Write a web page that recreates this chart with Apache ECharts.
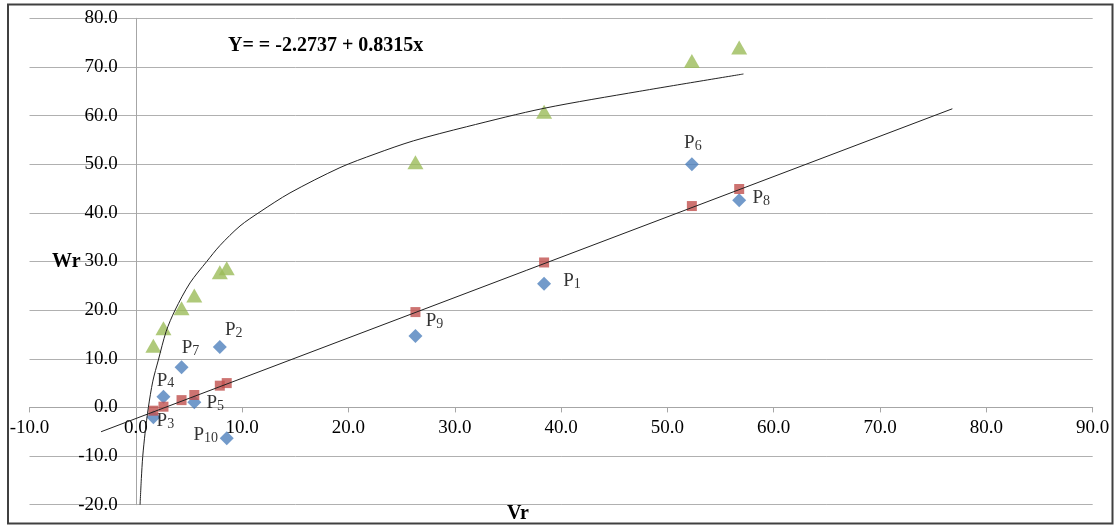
<!DOCTYPE html>
<html>
<head>
<meta charset="utf-8">
<script src="https://cdn.jsdelivr.net/npm/echarts@6/dist/echarts.min.js"></script>
<style>
html,body{margin:0;padding:0;background:#fff;}
#c{width:1115px;height:526px;}
</style>
</head>
<body>
<div id="c"></div>
<script>
// ---- data ----
const vr = [1.65, 2.6, 4.3, 5.5, 7.9, 8.55, 26.3, 38.4, 52.3, 56.75];
const pointIds = ['3', '4', '7', '5', '2', '10', '9', '1', '6', '8'];
const wrBlue  = [-2.0, 2.2, 8.25, 1.05, 12.4, -6.35, 14.7, 25.4, 50.0, 42.6];
const wrRed   = [-0.67, 0.15, 1.5, 2.55, 4.47, 5.0, 19.6, 29.8, 41.4, 44.9];
const wrGreen = [12.7, 16.3, 20.4, 23.0, 27.8, 28.6, 50.4, 60.8, 71.2, 74.0];
const curveX = [0.40, 0.52, 0.65, 0.87, 1.18, 1.6, 2.12, 2.85, 3.69, 5.1, 6.67, 7.92, 9.8, 11.68, 14.5, 19.2, 22.5, 26.1, 31.1, 38.4, 47.4, 57.15];
const curveY = [-20.0, -14.6, -10.1, -5.3, 0.0, 5.4, 9.75, 15.6, 20.0, 25.6, 30.0, 33.3, 37.3, 40.2, 44.1, 49.3, 52.1, 54.8, 57.7, 61.5, 65.0, 68.55];
const lineX = [-3.27, 76.8];
const lineY = [-5.0, 61.4];
const xTicks = {min: -10, max: 90, step: 10};
const yTicks = {min: -20, max: 80, step: 10};

// ---- layout / styling ----
const labelOffsets = [[12, 4], [2, -16], [9, -19], [21, 1], [14, -17], [-21, -3], [19, -15], [28, -3], [1, -21], [22, -2]];
const W = 1115, H = 526;
const G = {left: 29.5, right: 22.3, top: 18.3, bottom: 21.3};
const plotW = W - G.left - G.right, plotH = H - G.top - G.bottom;
// axes cross at zero: shift the axes into the plot
const xAxisOffset = -((0 - yTicks.min) / (yTicks.max - yTicks.min)) * plotH;
const yAxisOffset = -((0 - xTicks.min) / (xTicks.max - xTicks.min)) * plotW;

const FONT = '"Liberation Serif", "Times New Roman", serif';
const chart = echarts.init(document.getElementById('c'), null, {renderer: 'canvas'});

const blueData = vr.map((x, i) => ({
  value: [x, wrBlue[i]],
  label: {
    show: true,
    position: 'inside',
    offset: labelOffsets[i],
    formatter: '{p|P}{s|' + pointIds[i] + '}'
  }
}));

const option = {
  animation: false,
  backgroundColor: '#fff',
  grid: {left: G.left, right: G.right, top: G.top, bottom: G.bottom, containLabel: false, outerBoundsMode: 'none'},
  xAxis: {
    type: 'value', min: xTicks.min, max: xTicks.max, interval: xTicks.step,
    position: 'bottom', offset: xAxisOffset,
    axisLine: {show: true, onZero: false, lineStyle: {color: '#a6a6a6', width: 1}},
    axisTick: {show: true, length: 5, lineStyle: {color: '#a6a6a6'}},
    axisLabel: {formatter: v => v.toFixed(1), fontSize: 19, fontFamily: FONT, color: '#000', margin: 11, showMinLabel: true, showMaxLabel: true},
    splitLine: {show: false}
  },
  yAxis: {
    type: 'value', min: yTicks.min, max: yTicks.max, interval: yTicks.step,
    position: 'left', offset: yAxisOffset,
    axisLine: {show: true, onZero: false, lineStyle: {color: '#a6a6a6', width: 1}},
    axisTick: {show: false},
    axisLabel: {formatter: v => v.toFixed(1), fontSize: 19, fontFamily: FONT, color: '#000', margin: 18, showMinLabel: true, showMaxLabel: true},
    splitLine: {show: true, lineStyle: {color: '#b0b0b0', width: 1}}
  },
  series: [
    {
      type: 'scatter', name: 'blue', symbol: 'diamond', symbolSize: 14,
      itemStyle: {color: '#4f81bd'},
      label: {
        rich: {
          p: {fontSize: 19, fontFamily: FONT, color: '#000', lineHeight: 20},
          s: {fontSize: 14, fontFamily: FONT, color: '#000', lineHeight: 14, padding: [6, 0, 0, 0]}
        }
      },
      data: blueData, z: 3
    },
    {
      type: 'scatter', name: 'red', symbol: 'rect', symbolSize: 10,
      itemStyle: {color: '#c0504d'},
      data: vr.map((x, i) => [x, wrRed[i]]), z: 4
    },
    {
      type: 'scatter', name: 'green', symbol: 'triangle', symbolSize: [16, 14],
      itemStyle: {color: '#9bbb59'},
      data: vr.map((x, i) => [x, wrGreen[i]]), z: 5
    },
    {
      type: 'line', name: 'linear', showSymbol: false, symbol: 'none',
      lineStyle: {color: '#222', width: 1},
      data: lineX.map((x, i) => [x, lineY[i]]), z: 6
    },
    {
      type: 'line', name: 'log', showSymbol: false, symbol: 'none', smooth: 0.3,
      lineStyle: {color: '#222', width: 1},
      data: curveX.map((x, i) => [x, curveY[i]]), z: 6
    }
  ],
  graphic: [
    {type: 'rect', z: 100, silent: true, shape: {x: 8, y: 4.5, width: 1104.5, height: 519}, style: {fill: 'none', stroke: '#404040', lineWidth: 2}},
    {type: 'text', z: 100, style: {text: 'Y= = -2.2737 + 0.8315x', x: 228, y: 46, font: 'bold 20px ' + FONT, fill: '#000', textAlign: 'left', textVerticalAlign: 'middle', verticalAlign: 'middle'}},
    {type: 'text', z: 100, style: {text: 'Wr', x: 52, y: 262, font: 'bold 20px ' + FONT, fill: '#000', textAlign: 'left', textVerticalAlign: 'middle', verticalAlign: 'middle'}},
    {type: 'text', z: 100, style: {text: 'Vr', x: 507, y: 514, font: 'bold 20px ' + FONT, fill: '#000', textAlign: 'left', textVerticalAlign: 'middle', verticalAlign: 'middle'}}
  ]
};
chart.setOption(option);
</script>
</body>
</html>
